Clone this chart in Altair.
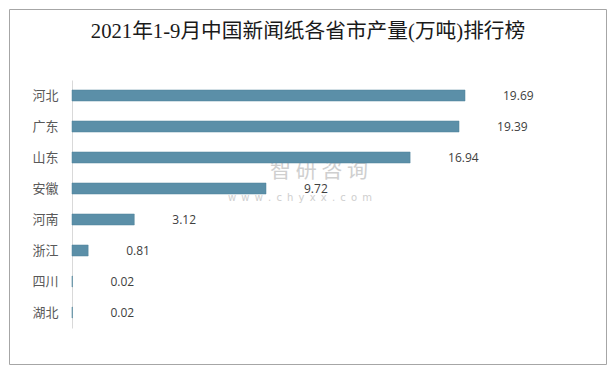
import altair as alt
import pandas as pd

provinces = ["河北", "广东", "山东", "安徽", "河南", "浙江", "四川", "湖北"]
values = [19.69, 19.39, 16.94, 9.72, 3.12, 0.81, 0.02, 0.02]
title_text = "2021年1-9月中国新闻纸各省市产量(万吨)排行榜"
wm_name = "智 研 咨 询"
wm_url = " \u2009".join("www.chyxx.com")

df = pd.DataFrame({"province": provinces, "value": values})

y_enc = alt.Y(
    "province:N",
    sort=provinces,
    scale=alt.Scale(range=[71, 319], paddingInner=0.645, paddingOuter=0.3225),
    axis=alt.Axis(
        title=None, offset=-63, domainColor="#d9d9d9", domainWidth=1,
        ticks=False, labelPadding=14, labelFontSize=13, labelColor="#595959",
        labelFont="Noto Sans CJK SC", grid=False,
    ),
)
x_enc = alt.X("value:Q", scale=alt.Scale(domain=[0, 25], range=[63, 562]), axis=None)

base = alt.Chart(df)

bars = base.mark_bar(color="#5B8FA8", stroke="#4F8299", strokeWidth=0.5).encode(x=x_enc, y=y_enc)

labels = base.mark_text(
    align="left", baseline="middle", dx=38, fontSize=12, color="#404040", font="Open Sans"
).encode(x=x_enc, y=y_enc, text=alt.Text("value:Q", format=".2f"))

wm_df = pd.DataFrame({"name": [wm_name], "url": [wm_url], "title": [title_text]})

wm1 = alt.Chart(wm_df).mark_text(
    align="left", baseline="middle", fontSize=21, color="#c4c4c4", opacity=0.8,
    font="Noto Sans CJK SC",
).encode(text="name:N", x=alt.value(261), y=alt.value(162))

wm2 = alt.Chart(wm_df).mark_text(
    align="left", baseline="middle", fontSize=10, color="#c4c4c4", opacity=0.8,
    font="DejaVu Sans",
).encode(text="url:N", x=alt.value(219), y=alt.value(189))

title = alt.Chart(wm_df).mark_text(
    align="center", baseline="middle", fontSize=20.7, color="#1a1a1a",
    font="Liberation Serif, Noto Sans CJK SC",
).encode(text="title:N", x=alt.value(299), y=alt.value(23))

chart = alt.layer(wm1, wm2, bars, labels, title).properties(
    width=597, height=355,
    autosize=alt.AutoSizeParams(type="none"),
    padding={"left": 1, "top": 1, "right": 1, "bottom": 1},
    background="white",
).configure_view(stroke="#a6a6a6", strokeWidth=1)

chart.save("out.html", embed_options={"renderer": "svg", "actions": False})
